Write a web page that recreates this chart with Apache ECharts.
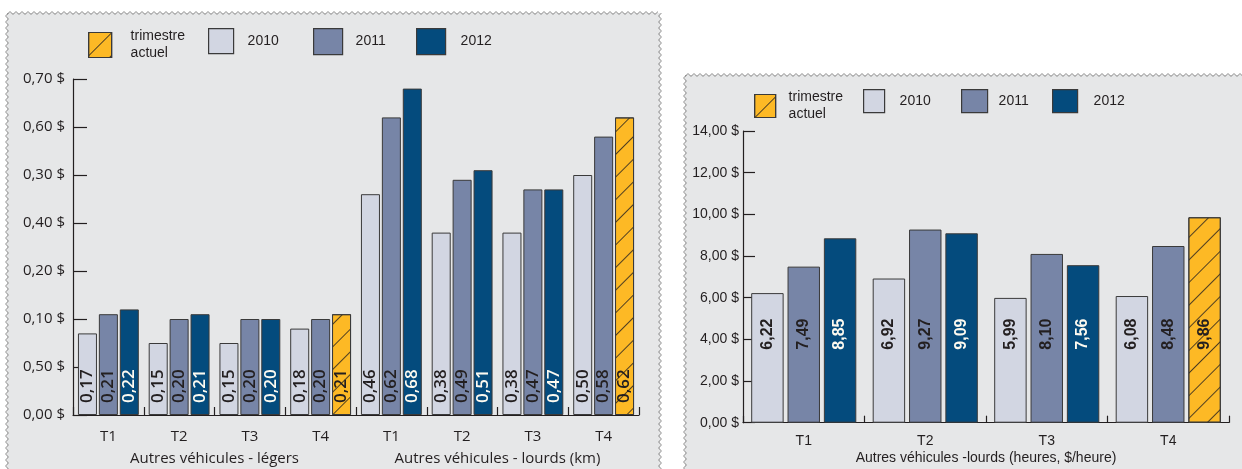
<!DOCTYPE html>
<html>
<head>
<meta charset="utf-8">
<script src="https://cdn.jsdelivr.net/npm/echarts@6/dist/echarts.min.js"></script>
<style>
  html, body { margin: 0; padding: 0; background: #ffffff; }
  #chart { width: 1242px; height: 469px; }
</style>
</head>
<body>
<div id="chart"></div>
<script>
// ---- Cost per kilometre (light and heavy vehicles) ----
const quarters = ['T1', 'T2', 'T3', 'T4'];
const kmGroups = ['Autres véhicules - légers', 'Autres véhicules - lourds (km)'];
const km2010 = [0.17, 0.15, 0.15, 0.18, 0.46, 0.38, 0.38, 0.50];
const km2011 = [0.21, 0.20, 0.20, 0.20, 0.62, 0.49, 0.47, 0.58];
const km2012 = [0.22, 0.21, 0.20, '-', 0.68, 0.51, 0.47, '-'];
const kmCurrent = ['-', '-', '-', 0.21, '-', '-', '-', 0.62];
const kmTickLabels = ['0,00 $', '0,50 $', '0,10 $', '0,20 $', '0,40 $', '0,30 $', '0,60 $', '0,70 $'];

// ---- Cost per hour (heavy vehicles) ----
const hourGroup = ['Autres véhicules -lourds (heures, $/heure)'];
const hr2010 = [6.22, 6.92, 5.99, 6.08];
const hr2011 = [7.49, 9.27, 8.10, 8.48];
const hr2012 = [8.85, 9.09, 7.56, '-'];
const hrCurrent = ['-', '-', '-', 9.86];
const hrTickLabels = ['0,00 $', '2,00 $', '4,00 $', '6,00 $', '8,00 $', '10,00 $', '12,00 $', '14,00 $'];

const seriesNames = ['trimestre actuel', '2010', '2011', '2012'];

const INK = '#231f20';
const EDGE = '#3a3a3a';
const PANEL = '#e6e7e8';
const COLORS = { '2010': '#d2d6e2', '2011': '#7785a7', '2012': '#044b7d', 'trimestre actuel': '#fdb925' };
const HATCH = {
  symbol: 'rect', symbolSize: 1,
  dashArrayX: [1, 0], dashArrayY: [0.8, 15],
  rotation: -Math.PI / 4, color: 'rgba(35,31,32,0.8)'
};

const fmt = v => (typeof v === 'number') ? v.toFixed(2).replace('.', ',') : '';

// the km chart repeats T1..T4 for each vehicle group
const kmCategories = kmGroups.flatMap(() => quarters);

function barSeries(name, data, grid, opts) {
  const dark = name === '2012';
  return {
    type: 'bar', name, data,
    xAxisIndex: grid === 0 ? 0 : 2,
    yAxisIndex: grid,
    stack: (name === '2012' || name === 'trimestre actuel') ? 'last' + grid : undefined,
    barGap: opts.barGap, barCategoryGap: opts.barCategoryGap,
    itemStyle: {
      color: COLORS[name], borderColor: EDGE, borderWidth: 1,
      decal: name === 'trimestre actuel' ? HATCH : undefined
    },
    label: {
      show: true, position: 'insideBottom', rotate: 90,
      align: 'left', verticalAlign: 'middle',
      distance: opts.labelDistance,
      fontFamily: opts.labelFont, fontSize: opts.labelSize, fontWeight: opts.labelWeight,
      color: dark ? '#fdfaf0' : INK,
      formatter: p => fmt(p.value)
    },
    emphasis: { disabled: true }
  };
}

const kmOpts = { barGap: '10%', barCategoryGap: '14%', labelDistance: 12, labelFont: 'Open Sans', labelSize: 17, labelWeight: 600 };
const hrOpts = { barGap: '12%', barCategoryGap: '13.5%', labelDistance: 73, labelFont: 'Liberation Sans', labelSize: 16, labelWeight: 'bold' };

const series = [
  barSeries('2010', km2010, 0, kmOpts),
  barSeries('2011', km2011, 0, kmOpts),
  barSeries('2012', km2012, 0, kmOpts),
  barSeries('trimestre actuel', kmCurrent, 0, kmOpts),
  barSeries('2010', hr2010, 1, hrOpts),
  barSeries('2011', hr2011, 1, hrOpts),
  barSeries('2012', hr2012, 1, hrOpts),
  barSeries('trimestre actuel', hrCurrent, 1, hrOpts)
];

// one legend block per entry so each sits where it belongs in its panel
function legendItem(name, left, top, w, h, gap) {
  return {
    data: [name], left, top, itemWidth: w, itemHeight: h, icon: 'rect',
    selectedMode: false, padding: 0,
    itemStyle: { borderColor: EDGE, borderWidth: 1.2 },
    formatter: n => n.replace(' ', '\n'),
    textStyle: { fontFamily: 'Liberation Sans', fontSize: 14, color: INK, lineHeight: 17, padding: [0, 0, 0, gap - 5] }
  };
}
const legends = [
  legendItem(seriesNames[0], 88, 28, 23, 25, 19),
  legendItem(seriesNames[1], 208, 28, 25, 25, 14),
  legendItem(seriesNames[2], 313, 28, 29, 26, 13),
  legendItem(seriesNames[3], 416, 28, 29, 26, 15),
  legendItem(seriesNames[0], 754, 89, 21, 23, 13),
  legendItem(seriesNames[1], 863, 89, 21, 23, 15),
  legendItem(seriesNames[2], 961, 89, 26, 23, 11),
  legendItem(seriesNames[3], 1052, 89, 25, 23, 16)
];

// zig-zag frame edges of the two panels
function zigH(x0, x1, y, step, amp) {
  const pts = []; let i = 0;
  for (let x = x0; x <= x1; x += step) pts.push([x, y + (i++ % 2 ? -amp : amp)]);
  return pts;
}
function zigV(x, y0, y1, step, amp) {
  const pts = []; let i = 0;
  for (let y = y0; y <= y1; y += step) pts.push([x + (i++ % 2 ? -amp : amp), y]);
  return pts;
}
const frameLine = { stroke: '#7d7d7d', lineWidth: 0.9, fill: null };
const graphic = [
  { type: 'rect', z: -10, silent: true, shape: { x: 7, y: 13, width: 653, height: 460 }, style: { fill: PANEL } },
  { type: 'rect', z: -10, silent: true, shape: { x: 685, y: 75, width: 560, height: 400 }, style: { fill: PANEL } },
  { type: 'polyline', z: -9, silent: true, shape: { points: zigH(7, 660, 13, 3, 1.4) }, style: frameLine },
  { type: 'polyline', z: -9, silent: true, shape: { points: zigV(7, 13, 472, 3, 1.4) }, style: frameLine },
  { type: 'polyline', z: -9, silent: true, shape: { points: zigV(660, 13, 472, 3, 1.4) }, style: frameLine },
  { type: 'polyline', z: -9, silent: true, shape: { points: zigH(685, 1245, 75, 3, 1.4) }, style: frameLine },
  { type: 'polyline', z: -9, silent: true, shape: { points: zigV(685, 75, 472, 3, 1.4) }, style: frameLine }
];

const axisLine = { show: true, lineStyle: { color: INK, width: 1.2 } };
const axisTick = (len) => ({ show: true, inside: true, length: len, lineStyle: { color: INK, width: 1.2 } });

const option = {
  animation: false,
  backgroundColor: '#ffffff',
  graphic,
  legend: legends,
  grid: [
    { left: 73, top: 79, width: 566, height: 336 },
    { left: 743, top: 131, width: 486, height: 291.7 }
  ],
  xAxis: [
    {
      type: 'category', gridIndex: 0, data: kmCategories,
      axisLine, axisTick: axisTick(8),
      axisLabel: { fontFamily: 'Open Sans', fontSize: 15, color: INK, margin: 14, interval: 0 }
    },
    {
      type: 'category', gridIndex: 0, data: kmGroups, position: 'bottom', offset: 22,
      axisLine: { show: false }, axisTick: { show: false },
      axisLabel: { fontFamily: 'Open Sans', fontSize: 15, color: INK, margin: 14, interval: 0 }
    },
    {
      type: 'category', gridIndex: 1, data: quarters,
      axisLine, axisTick: axisTick(7),
      axisLabel: { fontFamily: 'Liberation Sans', fontSize: 14, color: INK, margin: 11, interval: 0 }
    },
    {
      type: 'category', gridIndex: 1, data: hourGroup, position: 'bottom', offset: 17,
      axisLine: { show: false }, axisTick: { show: false },
      axisLabel: { fontFamily: 'Liberation Sans', fontSize: 14, color: INK, margin: 11, interval: 0 }
    }
  ],
  yAxis: [
    {
      type: 'value', gridIndex: 0, min: 0, max: 0.7, interval: 0.1,
      axisLine, axisTick: axisTick(14), splitLine: { show: false },
      axisLabel: {
        fontFamily: 'Open Sans', fontSize: 15, color: INK, margin: 8,
        formatter: v => kmTickLabels[Math.round(v / 0.1)]
      }
    },
    {
      type: 'value', gridIndex: 1, min: 0, max: 14, interval: 2,
      axisLine, axisTick: axisTick(12), splitLine: { show: false },
      axisLabel: {
        fontFamily: 'Liberation Sans', fontSize: 14, color: INK, margin: 4,
        formatter: v => hrTickLabels[Math.round(v / 2)]
      }
    }
  ],
  series
};

const chart = echarts.init(document.getElementById('chart'), null, { renderer: 'canvas' });
chart.setOption(option);
</script>
</body>
</html>
